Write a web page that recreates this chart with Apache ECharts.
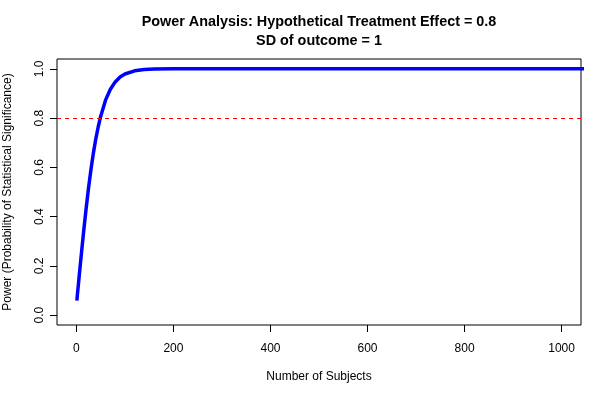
<!DOCTYPE html>
<html>
<head>
<meta charset="utf-8">
<script src="https://cdn.jsdelivr.net/npm/echarts@6/dist/echarts.min.js"></script>
<style>
html,body{margin:0;padding:0;background:#fff;}
#chart{width:604px;height:394px;}
</style>
</head>
<body>
<div id="chart"></div>
<script>
// Values (curve continues past the right edge)
const subjects = [1, 2, 4, 6, 8, 10, 12, 15, 18, 20, 25, 30, 35, 40, 45, 50, 60, 70, 80, 90, 100, 120, 140, 160, 200, 300, 400, 500, 600, 700, 800, 900, 1000, 1100];
const power = [0.059, 0.082, 0.123, 0.164, 0.204, 0.244, 0.283, 0.341, 0.396, 0.432, 0.516, 0.591, 0.658, 0.716, 0.765, 0.807, 0.873, 0.917, 0.947, 0.967, 0.979, 0.992, 0.997, 0.999, 1.0, 1.0, 1.0, 1.0, 1.0, 1.0, 1.0, 1.0, 1.0, 1.0];
const xTicks = [0, 200, 400, 600, 800, 1000];
const yTicks = [0, 0.2, 0.4, 0.6, 0.8, 1.0];
const targetPower = 0.8;
const titleText = 'Power Analysis: Hypothetical Treatment Effect = 0.8\nSD of outcome = 1';
const xName = 'Number of Subjects';
const yName = 'Power (Probability of Statistical Significance)';

const font = '"Liberation Sans", Arial, Helvetica, sans-serif';
const chart = echarts.init(document.getElementById('chart'), null, {renderer: 'canvas'});
chart.setOption({
  animation: false,
  backgroundColor: '#ffffff',
  title: {
    text: titleText,
    left: 319, top: 13, textAlign: 'center', padding: 0,
    textStyle: {fontFamily: font, fontSize: 14.4, fontWeight: 'bold', color: '#000', lineHeight: 18.5}
  },
  grid: {left: 57, top: 59, right: 23, bottom: 69, show: true, borderColor: '#000', borderWidth: 1,
    backgroundColor: 'transparent', outerBoundsMode: 'none', containLabel: false},
  xAxis: {
    type: 'value', min: -40, max: 1040,
    name: xName, nameLocation: 'middle', nameGap: 46,
    nameTextStyle: {fontFamily: font, fontSize: 12, color: '#000'},
    axisLine: {show: false, onZero: false},
    axisTick: {show: true, length: 7, customValues: xTicks, lineStyle: {color: '#000'}},
    axisLabel: {customValues: xTicks, margin: 18, fontFamily: font, fontSize: 12, color: '#000',
      formatter: v => String(v)},
    splitLine: {show: false}
  },
  yAxis: {
    type: 'value', min: -0.04, max: 1.04,
    name: yName, nameLocation: 'middle', nameGap: 43, nameRotate: 90,
    nameTextStyle: {fontFamily: font, fontSize: 12, color: '#000'},
    axisLine: {show: false, onZero: false},
    axisTick: {show: true, length: 7, customValues: yTicks, lineStyle: {color: '#000'}},
    axisLabel: {customValues: yTicks, rotate: 90, margin: 11, fontFamily: font, fontSize: 12, color: '#000',
      formatter: v => v.toFixed(1)},
    splitLine: {show: false}
  },
  series: [{
    type: 'line',
    data: subjects.map((s, i) => [s, power[i]]),
    showSymbol: false,
    smooth: false,
    clip: true,
    lineStyle: {color: '#0000ff', width: 3.5},
    markLine: {
      silent: true, symbol: ['none', 'none'],
      label: {show: false},
      lineStyle: {color: '#ff0000', width: 1, type: [4, 4]},
      data: [{yAxis: targetPower}]
    }
  }]
});
</script>
</body>
</html>
